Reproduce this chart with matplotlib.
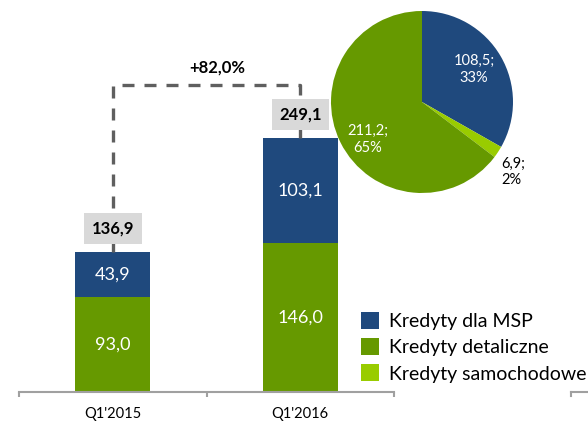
import matplotlib
matplotlib.use("Agg")
import matplotlib.pyplot as plt
from matplotlib.patches import Patch
from matplotlib.lines import Line2D

plt.rcParams['font.family'] = ['Lato', 'DejaVu Sans']

categories = ["Q1'2015", "Q1'2016"]
retail = [93.0, 146.0]
msp = [43.9, 103.1]
totals = [136.9, 249.1]
growth_label = "+82,0%"
pie_labels = ["Kredyty dla MSP", "Kredyty samochodowe", "Kredyty detaliczne"]
pie_values = [108.5, 6.9, 211.2]
pie_pct = [33, 2, 65]
legend_labels = ["Kredyty dla MSP", "Kredyty detaliczne", "Kredyty samochodowe"]

BLUE = '#1F497D'
GREEN = '#669900'
LIGHT = '#99CC00'
GRAY_AX = '#A0A0A0'
DASH = '#5F5F5F'

def fmt(v):
    return f"{v:.1f}".replace('.', ',')

W, H = 588, 424
fig = plt.figure(figsize=(W/100, H/100), dpi=100)

# main bar axes
ax_left, ax_right, ax_bottom = 19, 394, 392
ax = fig.add_axes([ax_left/W, (H-ax_bottom)/H, (ax_right-ax_left)/W, ax_bottom/H])
ppu = 1.02
ax.set_xlim(-0.5, 1.5)
ax.set_ylim(0, ax_bottom/ppu)
x = list(range(len(categories)))
ax.bar(x, retail, width=0.4, color=GREEN, zorder=2)
ax.bar(x, msp, bottom=retail, width=0.4, color=BLUE, zorder=2)
for i in x:
    ax.text(i, retail[i]/2, fmt(retail[i]), color='white', ha='center', va='center', fontsize=13, zorder=3)
    ax.text(i, retail[i] + msp[i]/2, fmt(msp[i]), color='white', ha='center', va='center', fontsize=13, zorder=3)
    ax.text(i, totals[i] + 23, fmt(totals[i]), color='black', ha='center', va='center', fontsize=12,
            fontweight='bold', zorder=5,
            bbox=dict(boxstyle='square,pad=0.45', fc='#D9D9D9', ec='none'))

top = 301
ax.plot([0, 0, 1, 1], [totals[0], top, top, totals[1]], color=DASH, lw=2.4,
        dashes=(3.6, 3.0), zorder=4, solid_capstyle='butt', dash_capstyle='butt')
ax.text(0.56, top + 17, growth_label, ha='center', va='center', fontsize=12, fontweight='bold')

for s in ['top', 'right', 'left']:
    ax.spines[s].set_visible(False)
ax.spines['bottom'].set_color(GRAY_AX)
ax.spines['bottom'].set_linewidth(1.5)
ax.set_yticks([])
ax.set_xticks([-0.5, 0.5, 1.5])
ax.set_xticklabels([])
ax.tick_params(axis='x', which='major', direction='out', length=3.8, width=1.5, color=GRAY_AX)
ax.set_xticks(x, minor=True)
ax.set_xticklabels(categories, minor=True, fontsize=10.5)
ax.tick_params(axis='x', which='minor', length=0, pad=11)

# stub of next chart's axis
fig.add_artist(Line2D([571/W, 1.0], [(H-392)/H]*2, color=GRAY_AX, lw=1.5, transform=fig.transFigure))
fig.add_artist(Line2D([571/W]*2, [(H-392)/H, (H-396)/H], color=GRAY_AX, lw=1.5, transform=fig.transFigure))

# pie
cx, cy, r = 422, 102, 91
pax = fig.add_axes([(cx-r)/W, (H-cy-r)/H, 2*r/W, 2*r/H])
pax.pie(pie_values, colors=[BLUE, LIGHT, GREEN], startangle=90, counterclock=False, radius=1)
pax.set_xlim(-1, 1)
pax.set_ylim(-1, 1)
pax.text(0.57, 0.36, f"{fmt(pie_values[0])};\n{pie_pct[0]}%", color='white', ha='center', va='center',
         fontsize=10.5, linespacing=1.25)
pax.text(-0.60, -0.41, f"{fmt(pie_values[2])};\n{pie_pct[2]}%", color='white', ha='center', va='center',
         fontsize=10.5, linespacing=1.25)
pax.text(0.87, -0.77, f"{fmt(pie_values[1])};\n{pie_pct[1]}%", color='black', ha='left', va='center',
         fontsize=10.5, linespacing=1.25)

# legend
handles = [Patch(facecolor=c, edgecolor='none') for c in [BLUE, GREEN, LIGHT]]
fig.legend(handles, legend_labels, loc='upper left', bbox_to_anchor=(361/W, (H-312)/H),
           frameon=False, fontsize=14, handlelength=0.95, handleheight=0.95,
           handletextpad=0.5, labelspacing=0.42, borderpad=0, borderaxespad=0)

fig.savefig('out.png', dpi=100)
